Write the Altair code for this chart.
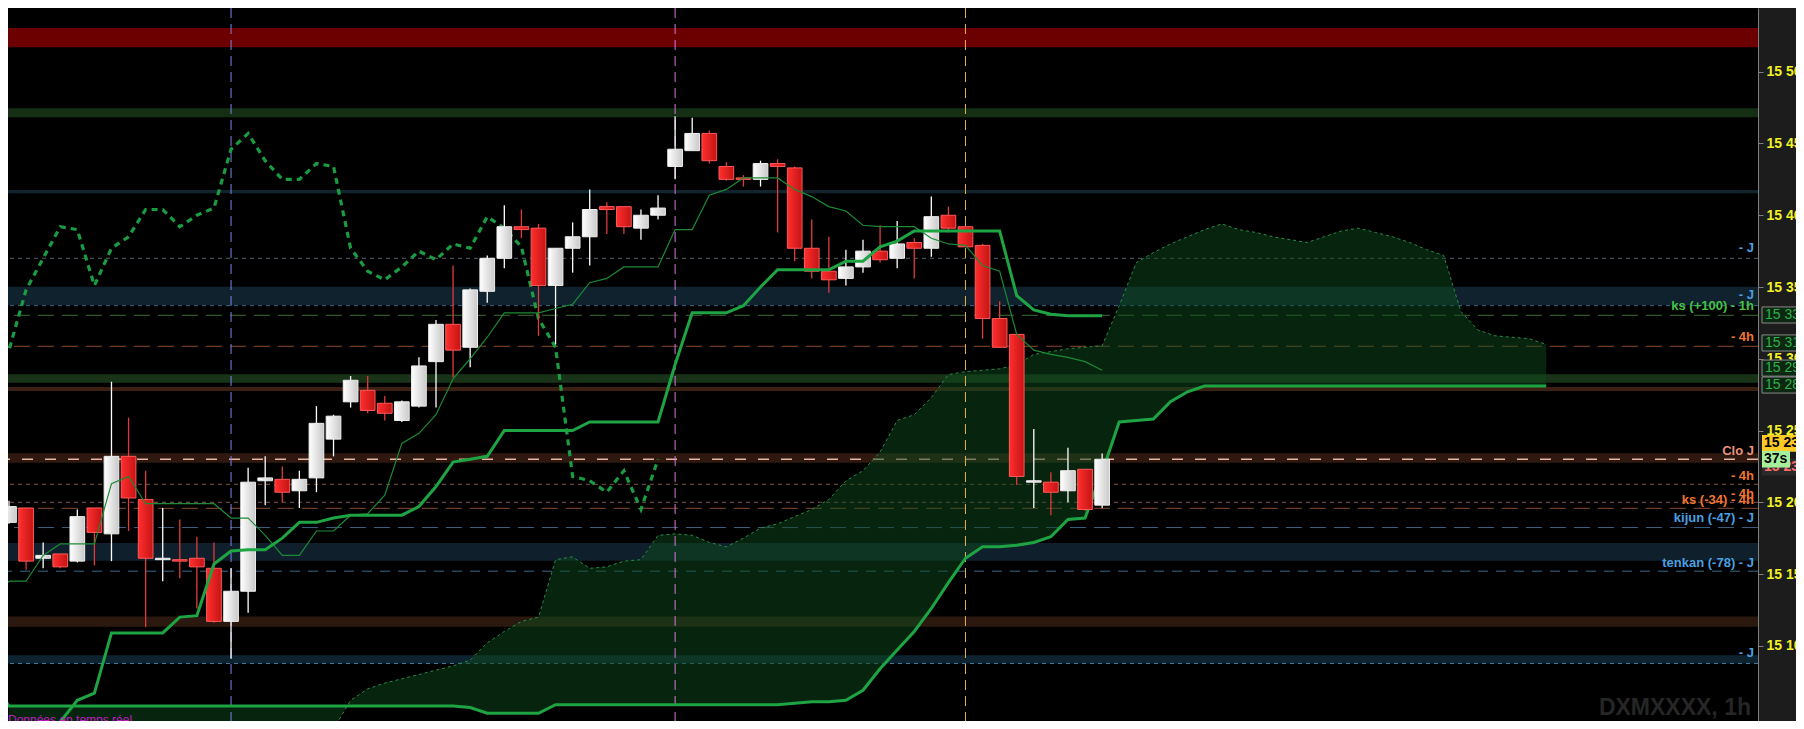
import altair as alt
import pandas as pd

W, H = 1750, 713
PAD_R = 38
Y_DOMAIN = [15047.6, 15544.4]
X_DOMAIN = [-0.0585, 102.40]

# ---- candles (1h) ----
opens = [15186, 15196, 15161, 15164, 15159, 15196, 15178, 15232, 15202, 15160,
         15160, 15161, 15154, 15117, 15138, 15215, 15216, 15208, 15217, 15244,
         15270, 15278, 15269, 15257, 15267, 15298, 15324, 15308, 15347, 15370,
         15392, 15391, 15351, 15377, 15385, 15406, 15406, 15391, 15400, 15434,
         15445, 15457, 15434, 15426, 15425, 15436, 15433, 15377, 15361, 15356,
         15364, 15375, 15370, 15381, 15377, 15400, 15392, 15379, 15328, 15317,
         15214, 15214, 15208, 15223, 15198]
highs = [15201, 15196, 15172, 15164, 15195, 15196, 15284, 15259, 15222, 15196,
         15188, 15176, 15172, 15154, 15224, 15232, 15225, 15222, 15267, 15261,
         15288, 15288, 15274, 15271, 15301, 15327, 15365, 15349, 15372, 15407,
         15404, 15394, 15377, 15395, 15418, 15409, 15406, 15404, 15414, 15469,
         15468, 15459, 15437, 15428, 15438, 15439, 15434, 15397, 15385, 15376,
         15383, 15393, 15396, 15384, 15413, 15406, 15392, 15380, 15340, 15317,
         15251, 15221, 15238, 15223, 15234]
lows = [15185, 15153, 15154, 15154, 15158, 15156, 15159, 15180, 15113, 15145,
        15147, 15126, 15116, 15091, 15123, 15198, 15200, 15196, 15207, 15232,
        15266, 15262, 15257, 15256, 15266, 15266, 15287, 15294, 15339, 15363,
        15384, 15316, 15310, 15360, 15365, 15387, 15387, 15383, 15397, 15425,
        15445, 15436, 15424, 15420, 15420, 15388, 15368, 15356, 15346, 15351,
        15360, 15367, 15363, 15356, 15371, 15388, 15378, 15314, 15308, 15212,
        15196, 15191, 15200, 15194, 15196]
closes = [15197, 15159, 15163, 15155, 15190, 15179, 15232, 15203, 15161, 15161,
          15159, 15155, 15117, 15138, 15214, 15217, 15207, 15216, 15255, 15260,
          15285, 15264, 15262, 15270, 15295, 15324, 15306, 15348, 15370, 15392,
          15390, 15351, 15377, 15385, 15404, 15404, 15392, 15400, 15405, 15446,
          15457, 15438, 15425, 15425, 15436, 15434, 15377, 15361, 15355, 15364,
          15375, 15369, 15380, 15377, 15399, 15391, 15378, 15328, 15308, 15218,
          15215, 15207, 15222, 15195, 15230]

# ---- Ichimoku ----
tenkan_start = -1
tenkan = [15131,
          15145, 15145, 15163, 15171, 15171, 15171, 15213, 15218, 15199, 15199,
          15199, 15199, 15199, 15189, 15189, 15177, 15163, 15163, 15180, 15180,
          15191, 15192, 15205, 15241, 15248, 15261, 15286, 15300, 15315, 15332,
          15332, 15332, 15335, 15338, 15353, 15356, 15364, 15364, 15364, 15390,
          15390, 15414, 15418, 15426, 15426, 15426, 15418, 15413, 15406, 15403,
          15393, 15392, 15392, 15392, 15384, 15380, 15379, 15365, 15361, 15317,
          15306, 15303, 15301, 15298, 15292]
kijun_start = 0
kijun = [15020, 15030, 15042, 15047, 15062, 15067, 15109, 15109, 15109, 15109,
         15120, 15121, 15157, 15166, 15167, 15167, 15175, 15186, 15186, 15189,
         15191, 15191, 15191, 15191, 15197, 15211, 15228, 15230, 15232, 15250,
         15250, 15250, 15250, 15250, 15256, 15256, 15256, 15256, 15256, 15296,
         15332, 15332, 15332, 15337, 15350, 15362, 15362, 15362, 15362, 15368,
         15368, 15378, 15382, 15389, 15389, 15389, 15389, 15389, 15389, 15344,
         15334, 15331, 15330, 15330, 15330]
span_a_start = 0
span_a = [15020, 15020, 15020, 15020, 15020, 15020, 15020, 15020, 15020, 15020,
          15020, 15020, 15020, 15020, 15020, 15020, 15020, 15020, 15030, 15042,
          15062, 15070, 15074, 15077, 15080, 15083, 15086, 15090, 15102, 15110,
          15117, 15120, 15160, 15162, 15154, 15155, 15159, 15160, 15177, 15178,
          15177, 15172, 15169, 15175, 15182, 15185, 15190, 15195, 15202, 15215,
          15222, 15235, 15257, 15261, 15273, 15289, 15291, 15292, 15293, 15296,
          15303, 15305, 15307, 15308, 15309, 15337, 15367, 15374, 15380, 15385,
          15390, 15394, 15390, 15388, 15385, 15383, 15381, 15385, 15389, 15391,
          15388, 15385, 15381, 15376, 15372, 15333, 15320, 15316, 15315, 15314,
          15310]
span_b_start = -1
span_b = [15075,
          15058, 15058, 15058, 15058, 15058, 15058, 15058, 15058, 15058, 15058,
          15058, 15058, 15058, 15058, 15058, 15058, 15058, 15058, 15058, 15058,
          15058, 15058, 15058, 15058, 15058, 15058, 15058, 15057, 15053, 15053,
          15053, 15053, 15059, 15059, 15059, 15059, 15059, 15059, 15059, 15059,
          15059, 15059, 15059, 15059, 15059, 15059, 15060, 15061, 15061, 15062,
          15069, 15084, 15097, 15110, 15126, 15144, 15161, 15169, 15169, 15170,
          15172, 15176, 15188, 15189, 15221, 15256, 15257, 15258, 15270, 15277,
          15281, 15281, 15281, 15281, 15281, 15281, 15281, 15281, 15281, 15281,
          15281, 15281, 15281, 15281, 15281, 15281, 15281, 15281, 15281, 15281,
          15281]
CHIKOU_SHIFT = 26

# ---- horizontal zones / levels ----
band_lo = [15517, 15468.3, 15415.3, 15337.4, 15283.3, 15277.5, 15227.5, 15159.3, 15113.3, 15087.7]
band_hi = [15530.5, 15474.5, 15417.6, 15350.2, 15289.2, 15280.3, 15234.1, 15171.6, 15120.5, 15093.5]
band_col = ["#6c0000", "#152f15", "#12252f", "#0f222d", "#183318", "#3c2014", "#2e1810", "#0f202c", "#2b180e", "#0e2330"]

hline_p = [15370, 15337, 15330.3, 15308.7, 15230, 15212.5, 15200, 15195.8, 15182.4, 15152, 15087.7]
hline_col = ["#56606c", "#3c6e8e", "#3d6e34", "#8a4a2c", "#e8b4a4", "#7c5242", "#85585a", "#8a4a2c", "#3c5e7e", "#3c6a8a", "#4a7c9c"]
hline_dash = [[4, 4], [4, 4], [16, 8], [16, 8], [11, 12], [4, 4], [4, 4], [16, 8], [16, 8], [10, 8], [4, 4]]
hline_w = [1, 1, 1, 1, 1.5, 1, 1, 1, 1, 1, 1]

vline_idx = [13, 39, 56]
vline_col = ["#7a88e6", "#d77ad7", "#e6b04a"]

label_p = [15377, 15344.5, 15336.5, 15315, 15236, 15218.5, 15206, 15201.5, 15189, 15158, 15095]
label_txt = ["- J", "- J", "ks (+100) - 1h", "- 4h", "Clo J", "- 4h", "- 4h", "ks (-34) - 4h",
             "kijun (-47) - J", "tenkan (-78) - J", "- J"]
label_col = ["#4aa0e0", "#4aa0e0", "#46c046", "#f0762e", "#ea927c", "#f0762e", "#f0762e", "#f0762e",
             "#4aa0e0", "#4aa0e0", "#4aa0e0"]

box_p = [15330.5, 15311, 15293.5, 15281.7]
box_txt = ["15 330", "15 311", "15 292", "15 281"]
price_box_p = [15224.5, 15241, 15230]
price_box_txt = ["15 230", "15 234", "37s"]
price_box_bg = ["#2a2a2a", "#ffc926", "#a4ee9c"]
price_box_fg = ["#ff6a6a", "#000000", "#000000"]
price_box_w = [40, 40, 28]

# ---------------------------------------------------------------
FONT = "Liberation Sans"
xs = alt.Scale(domain=X_DOMAIN, nice=False, zero=False)
ys = alt.Scale(domain=Y_DOMAIN, nice=False, zero=False)
yax = alt.Axis(orient="right", values=list(range(15100, 15501, 50)),
               labelExpr="replace(format(datum.value, ','), ',', ' ')",
               labelColor="#f2f226", labelFont=FONT, labelFontSize=14, labelFontWeight="bold",
               domainColor="#808080", tickColor="#808080", tickSize=5, labelPadding=3,
               grid=False, title=None, labelOverlap=False, labelFlush=False)


def X(f):
    return alt.X(f"{f}:Q", scale=xs, axis=None)


def Y(f):
    return alt.Y(f"{f}:Q", scale=ys, axis=yax)


n = len(opens)
cdf = pd.DataFrame({"i": list(range(n)), "o": opens, "h": highs, "l": lows, "c": closes})
cdf["up"] = cdf["c"] >= cdf["o"]
cdf["lo"] = cdf[["o", "c"]].min(axis=1)
cdf["hi"] = cdf[["o", "c"]].max(axis=1)

ten_df = pd.DataFrame({"i": list(range(tenkan_start, tenkan_start + len(tenkan))), "v": tenkan})
kij_df = pd.DataFrame({"i": list(range(kijun_start, kijun_start + len(kijun))), "v": kijun})
sa_df = pd.DataFrame({"i": list(range(span_a_start, span_a_start + len(span_a))), "a": span_a})
sb_df = pd.DataFrame({"i": list(range(span_b_start, span_b_start + len(span_b))), "b": span_b})
cloud_df = sa_df.merge(sb_df, on="i")
chik = closes[CHIKOU_SHIFT - 1:]
chik_df = pd.DataFrame({"i": list(range(-1, -1 + len(chik))), "v": chik})

layers = []

# zones
band_df = pd.DataFrame({"lo": band_lo, "hi": band_hi, "col": band_col})
layers.append(alt.Chart(band_df).mark_rect().encode(
    x=alt.value(0), x2=alt.value(W), y=Y("lo"), y2="hi",
    color=alt.Color("col:N", scale=None)))

# dashed levels
for p, col, d, w in zip(hline_p, hline_col, hline_dash, hline_w):
    layers.append(alt.Chart(pd.DataFrame({"p": [p]})).mark_rule(
        color=col, strokeDash=d, strokeWidth=w).encode(y=Y("p")))

# cloud
layers.append(alt.Chart(cloud_df).mark_area(color="#0d4a1c", opacity=0.5, clip=True).encode(
    x=X("i"), y=Y("a"), y2="b"))

# session separators
for vi, col in zip(vline_idx, vline_col):
    layers.append(alt.Chart(pd.DataFrame({"i": [vi]})).mark_rule(
        color=col, strokeDash=[10, 6], strokeWidth=1).encode(x=X("i")))

# span A / span B
layers.append(alt.Chart(sa_df).mark_line(color="#2a8a4a", strokeWidth=1, strokeDash=[3, 3],
                                         clip=True).encode(x=X("i"), y=Y("a")))
layers.append(alt.Chart(sb_df).mark_line(color="#1ea443", strokeWidth=3, clip=True).encode(
    x=X("i"), y=Y("b")))

# chikou
layers.append(alt.Chart(chik_df).mark_line(color="#1a9c42", strokeWidth=3.2, strokeDash=[6, 5],
                                           clip=True).encode(x=X("i"), y=Y("v")))

# candles
up_grad = alt.LinearGradient(gradient="linear", x1=0, x2=1, y1=0, y2=0,
                             stops=[alt.GradientStop(color="#ffffff", offset=0),
                                    alt.GradientStop(color="#c9c9c9", offset=1)])
dn_grad = alt.LinearGradient(gradient="linear", x1=0, x2=1, y1=0, y2=0,
                             stops=[alt.GradientStop(color="#ff2e2e", offset=0),
                                    alt.GradientStop(color="#c41414", offset=1)])
base = alt.Chart(cdf)
layers.append(base.transform_filter("datum.up").mark_rule(color="#ffffff", strokeWidth=1.3, clip=True).encode(
    x=X("i"), y=Y("l"), y2="h"))
layers.append(base.transform_filter("!datum.up").mark_rule(color="#e23a3a", strokeWidth=1.3, clip=True).encode(
    x=X("i"), y=Y("l"), y2="h"))
layers.append(base.transform_filter("datum.up").transform_calculate(
    x0="datum.i - 0.43", x1="datum.i + 0.43").mark_rect(
    fill=up_grad, stroke="#eeeeee", strokeWidth=1, clip=True).encode(
    x=X("x0"), x2="x1", y=Y("lo"), y2="hi"))
layers.append(base.transform_filter("!datum.up").transform_calculate(
    x0="datum.i - 0.43", x1="datum.i + 0.43").mark_rect(
    fill=dn_grad, stroke="#ff5a5a", strokeWidth=1, clip=True).encode(
    x=X("x0"), x2="x1", y=Y("lo"), y2="hi"))

# tenkan / kijun
layers.append(alt.Chart(ten_df).mark_line(color="#1c8a36", strokeWidth=1.2, clip=True).encode(
    x=X("i"), y=Y("v")))
layers.append(alt.Chart(kij_df).mark_line(color="#1ea443", strokeWidth=3, clip=True).encode(
    x=X("i"), y=Y("v")))

# right-side level labels
lab_df = pd.DataFrame({"p": label_p, "t": label_txt, "col": label_col})
layers.append(alt.Chart(lab_df).mark_text(align="right", baseline="middle", font=FONT,
                                          fontSize=13, fontWeight="bold").encode(
    x=alt.value(W - 4), y=Y("p"), text="t:N", color=alt.Color("col:N", scale=None)))

# axis value boxes
box_df = pd.DataFrame({"p": box_p, "t": box_txt})
box_df["p0"] = box_df["p"] - 5.6
box_df["p1"] = box_df["p"] + 5.6
layers.append(alt.Chart(box_df).mark_rect(fill="#0c2812", stroke="#8a8a8a", strokeWidth=1).encode(
    x=alt.value(W + 4), x2=alt.value(W + 50), y=Y("p0"), y2="p1"))
layers.append(alt.Chart(box_df).mark_text(align="left", baseline="middle", font=FONT, fontSize=14,
                                          color="#2fb04a").encode(
    x=alt.value(W + 7), y=Y("p"), text="t:N"))

pb_df = pd.DataFrame({"p": price_box_p, "t": price_box_txt, "bg": price_box_bg,
                      "fg": price_box_fg, "w": price_box_w})
pb_df["p0"] = pb_df["p"] - 5.8
pb_df["p1"] = pb_df["p"] + 5.8
for k in range(len(pb_df)):
    one = pb_df.iloc[[k]]
    w = int(one["w"].iloc[0])
    layers.append(alt.Chart(one).mark_rect().encode(
        x=alt.value(W + 4), x2=alt.value(W + 4 + w), y=Y("p0"), y2="p1",
        color=alt.Color("bg:N", scale=None)))
    layers.append(alt.Chart(one).mark_text(align="left", baseline="middle", font=FONT, fontSize=14,
                                           fontWeight="bold").encode(
        x=alt.value(W + 6), y=Y("p"), text="t:N", color=alt.Color("fg:N", scale=None)))

# watermark & footer
layers.append(alt.Chart(pd.DataFrame({"t": ["DXMXXXX, 1h"]})).mark_text(
    align="right", baseline="middle", font=FONT, fontSize=23, fontWeight="bold", color="#262626").encode(
    x=alt.value(W - 7), y=alt.value(H - 13), text="t:N"))
layers.append(alt.Chart(pd.DataFrame({"t": ["Données en temps réel"]})).mark_text(
    align="left", baseline="alphabetic", font=FONT, fontSize=12, color="#c21cc2").encode(
    x=alt.value(0), y=alt.value(H + 3), text="t:N"))

chart = alt.layer(*layers).properties(
    width=W, height=H, background="#1c1c1c",
    autosize=alt.AutoSizeParams(type="none"),
    padding={"left": 0, "top": 0, "right": PAD_R, "bottom": 0},
).configure_view(fill="#000000", strokeWidth=0)

chart.save("out.html", embed_options={"renderer": "svg", "actions": False})
